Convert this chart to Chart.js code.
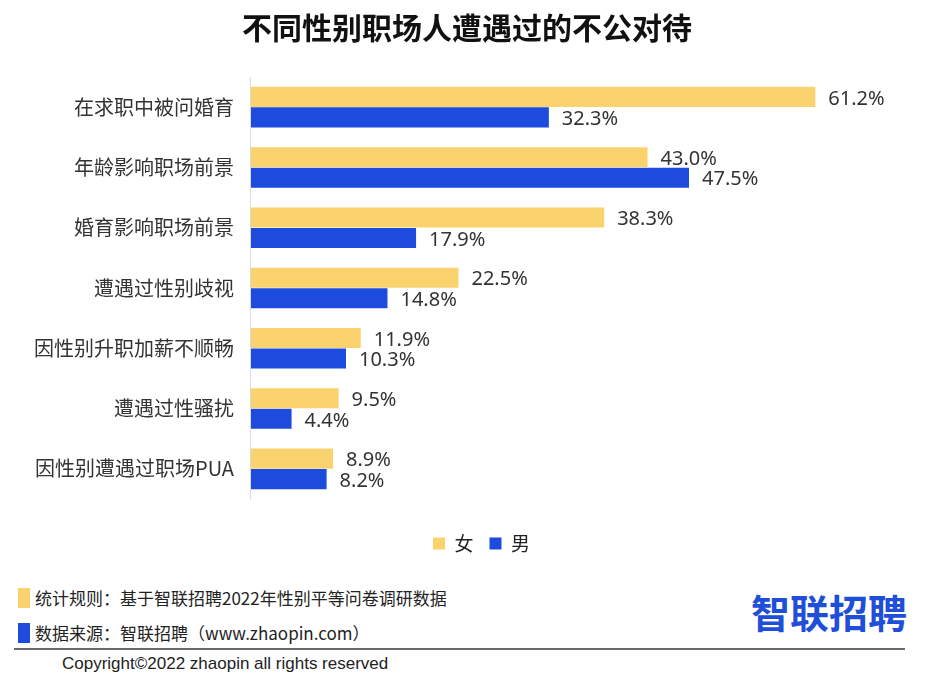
<!DOCTYPE html>
<html>
<head>
<meta charset="utf-8">
<script src="https://cdn.jsdelivr.net/npm/chart.js@4"></script>
<style>
  body { margin: 0; background: #fff; font-family: "Noto Sans CJK SC", "Noto Sans", sans-serif; }
  #wrap { position: relative; width: 948px; height: 685px; overflow: hidden; }
  #box { position: absolute; left: 0; top: 0; width: 948px; height: 563px; }
  #title { position: absolute; left: 0; top: 8px; width: 934px; text-align: center; font-size: 30px; line-height: 36px; font-weight: 700; color: #111; }
  .note { position: absolute; left: 18px; font-size: 17px; color: #222; white-space: nowrap; line-height: 20px; }
  .sq { display: inline-block; width: 12px; height: 20px; vertical-align: top; margin-right: 5px; }
  #logo { position: absolute; left: 751px; top: 592px; font-size: 39px; line-height: 1; font-weight: 700; color: #1f4fd8; }
  #rule { position: absolute; left: 14px; top: 648px; width: 891px; height: 2px; background: #6a6a6a; }
  #copy { position: absolute; left: 62px; top: 654px; font-family: "Liberation Sans Narrow", "Liberation Sans", sans-serif; font-size: 17px; color: #222; }
</style>
</head>
<body>
<div id="wrap">
  <div id="box"><canvas id="barChart"></canvas></div>
  <div id="title">不同性别职场人遭遇过的不公对待</div>
  <div class="note" style="top:588px"><span class="sq" style="background:#fad36f"></span>统计规则：基于智联招聘2022年性别平等问卷调研数据</div>
  <div class="note" style="top:623px"><span class="sq" style="background:#1c4bdd"></span>数据来源：智联招聘（www.zhaopin.com）</div>
  <div id="logo">智联招聘</div>
  <div id="rule"></div>
  <div id="copy">Copyright©2022 zhaopin all rights reserved</div>
</div>
<script>
const categories = ['在求职中被问婚育', '年龄影响职场前景', '婚育影响职场前景', '遭遇过性别歧视', '因性别升职加薪不顺畅', '遭遇过性骚扰', '因性别遭遇过职场PUA'];
const female = [61.2, 43.0, 38.3, 22.5, 11.9, 9.5, 8.9];
const male = [32.3, 47.5, 17.9, 14.8, 10.3, 4.4, 8.2];

// value labels at the end of each bar
const barLabels = {
  id: 'barLabels',
  afterDatasetsDraw(chart) {
    const ctx = chart.ctx;
    ctx.save();
    ctx.font = '20px "Noto Sans", "Noto Sans CJK SC", sans-serif';
    ctx.fillStyle = '#333';
    ctx.textAlign = 'left';
    ctx.textBaseline = 'middle';
    chart.data.datasets.forEach((ds, i) => {
      chart.getDatasetMeta(i).data.forEach((bar, j) => {
        ctx.fillText(ds.data[j].toFixed(1) + '%', bar.x + 13, bar.y + 2);
      });
    });
    ctx.restore();
  }
};

document.addEventListener('DOMContentLoaded', function () {
  const barCtx = document.getElementById('barChart');
  new Chart(barCtx, {
    type: 'bar',
    data: {
      labels: categories,
      datasets: [
        { label: '女', data: female, backgroundColor: '#fad36f', barPercentage: 0.98, categoryPercentage: 0.68 },
        { label: '男', data: male, backgroundColor: '#1c4bdd', barPercentage: 0.98, categoryPercentage: 0.68 }
      ]
    },
    options: {
      indexAxis: 'y',
      responsive: true,
      maintainAspectRatio: false,
      animation: false,
      layout: { padding: { top: 77, left: 25, right: 10, bottom: 0 } },
      plugins: {
        title: { display: false },
        legend: {
          position: 'bottom',
          title: { display: true, text: ' ', font: { size: 10 }, padding: { top: 0, bottom: 7 } },
          labels: {
            boxWidth: 12, boxHeight: 12, padding: 16, color: '#222',
            font: { size: 19, family: '"Noto Sans CJK SC", sans-serif' }
          }
        },
        tooltip: { enabled: false }
      },
      scales: {
        x: { display: false, min: 0, max: 74.5 },
        y: {
          grid: { display: false },
          border: { display: true, color: '#dcdcdc', width: 1 },
          ticks: { padding: 9, color: '#333', font: { size: 20, family: '"Noto Sans CJK SC", sans-serif' } }
        }
      }
    },
    plugins: [barLabels]
  });
});
</script>
</body>
</html>
